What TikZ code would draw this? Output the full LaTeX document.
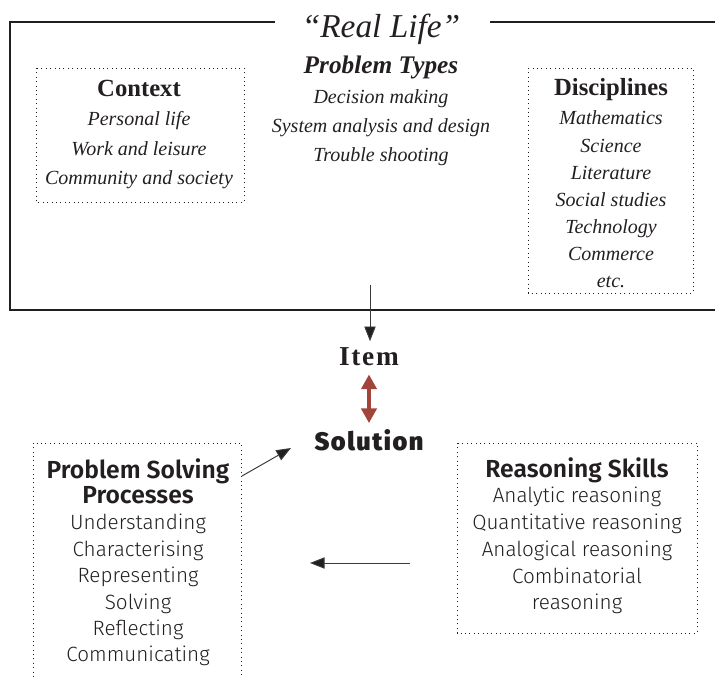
\documentclass[tikz,border=0pt]{standalone}
\usepackage{fontspec}
\setmainfont{Liberation Serif}
\newfontfamily\sansL{Fira Sans Light}
\newfontfamily\sansB{Fira Sans SemiBold}
\newfontfamily\sansH[LetterSpace=6]{Fira Sans Black}
\newfontfamily\itemfont[LetterSpace=6]{Liberation Serif Bold}
\usetikzlibrary{arrows.meta}
\definecolor{ink}{HTML}{231F20}
\definecolor{shaft}{HTML}{3A3A3A}
\definecolor{redarrow}{HTML}{A3443A}
\begin{document}
\begin{tikzpicture}[x=0.75pt,y=-0.75pt,
  frame/.style={draw=ink, line width=0.8pt},
  dotbox/.style={draw=ink, line width=0.7pt, dash pattern=on 0.7pt off 2.6pt},
  serifhead/.style={font=\fontsize{18.5}{21}\selectfont\bfseries, text=ink, anchor=base, inner sep=0pt},
  serifitem/.style={font=\fontsize{15}{18}\selectfont\itshape, text=ink, anchor=base, inner sep=0pt},
  sanshead/.style={font=\fontsize{18.5}{21}\selectfont\sansB, text=ink, anchor=base, inner sep=0pt},
  sansitem/.style={font=\fontsize{15.5}{18}\selectfont\sansL, text=ink, anchor=base, inner sep=0pt},
  arr/.style={draw=shaft, line width=0.7pt, -{Triangle[length=11pt,width=8.5pt,fill=ink]}},
  dblarr/.style={draw=redarrow, line width=2.4pt, {Triangle[length=11pt,width=11.5pt]}-{Triangle[length=11pt,width=11.5pt]}}
]
\useasboundingbox (0,0) rectangle (715,677);

% Real life frame
\draw[frame] (275,22) -- (10,22) -- (10,310) -- (715,310);
\draw[frame] (490,22) -- (715,22);
\node[font=\fontsize{25}{28}\selectfont\itshape, text=ink, anchor=base, inner sep=0pt] (real) at (381,38) {``Real Life''};

% Context
\draw[dotbox] (36,68) rectangle (244,202);
\node[serifhead] (ctx) at (139,97) {Context};
\foreach \t [count=\i] in {Personal life, Work and leisure, Community and society}
  \node[serifitem] (ctx-\i) at (139,{126+29.2*(\i-1)}) {\t};

% Problem types
\node[serifhead, font=\fontsize{19}{21}\selectfont\bfseries\itshape] (pt) at (381,74) {Problem Types};
\foreach \t [count=\i] in {Decision making, System analysis and design, Trouble shooting}
  \node[serifitem] (pt-\i) at (381,{104+29*(\i-1)}) {\t};

% Disciplines
\draw[dotbox] (528,68) rectangle (693,293);
\node[serifhead] (dis) at (611,96) {Disciplines};
\foreach \t [count=\i] in {Mathematics, Science, Literature, Social studies, Technology, Commerce, etc.}
  \node[serifitem] (dis-\i) at (611,{125+27.1*(\i-1)}) {\t};

% Item and Solution
\coordinate (top) at (370,285);
\node[font=\fontsize{20.5}{22}\selectfont\itemfont, text=ink, inner sep=0pt, anchor=base] (item) at (369,366) {Item};
\node[font=\fontsize{19}{22}\selectfont\sansH, text=ink, inner sep=0pt, anchor=base] (sol) at (369,451) {Solution};
\draw[arr] (top) -- ([xshift=0.75pt,yshift=5pt]item.north);
\draw[dblarr] ([yshift=-6pt]item.south) -- ([yshift=5pt]sol.north);

% Problem Solving Processes
\draw[dotbox] (33,677) -- (33,443) -- (241,443) -- (241,677);
\node[sanshead] (psp1) at (138,479) {Problem Solving};
\node[sanshead] (psp2) at (138,504) {Processes};
\foreach \t [count=\i] in {Understanding, Characterising, Representing, Solving, Reflecting, Communicating}
  \node[sansitem] (psp-\i) at (138,{530+26.4*(\i-1)}) {\t};

% Reasoning Skills
\draw[dotbox] (457,443) rectangle (697,633);
\node[sanshead] (rs) at (577,478) {Reasoning Skills};
\foreach \t [count=\i] in {Analytic reasoning, Quantitative reasoning, Analogical reasoning, Combinatorial, reasoning}
  \node[sansitem] (rs-\i) at (577,{503+26.7*(\i-1)}) {\t};

% arrows
\coordinate (a1s) at (242,476);
\coordinate (a1e) at (291,448);
\draw[arr] (a1s) -- (a1e);
\coordinate (a2s) at (410,563);
\coordinate (a2e) at (310,563);
\draw[arr] (a2s) -- (a2e);
\end{tikzpicture}
\end{document}
